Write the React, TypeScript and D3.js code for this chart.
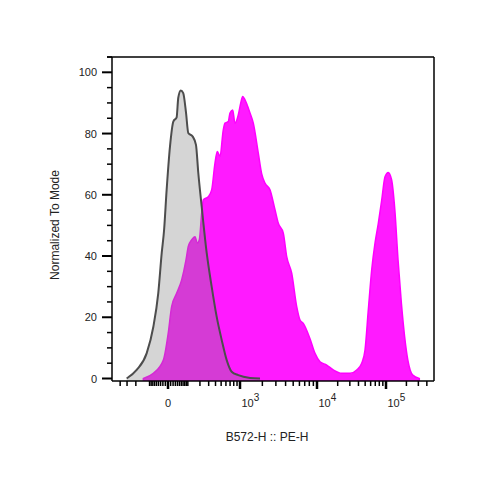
import React from "react";
import * as d3 from "d3";

// ---- data (fluorescence value, normalized to mode %) ----
const controlX = [-305, -192, -109, -67, -41, -25, -15, -5, 7.5, 21, 36, 44, 57, 71, 88, 103, 136, 163, 184, 218, 275, 341, 419, 511, 618, 743, 941, 1370, 1863];
const controlY = [0, 2.8, 8.3, 16.9, 27.9, 41.0, 48.5, 61.6, 75.8, 83.9, 85.3, 91.7, 94.1, 93.2, 86.8, 80.2, 79.0, 76.3, 67.2, 56.1, 41.0, 30.0, 20.2, 12.6, 6.0, 2.2, 1.1, 0.2, 0];

const stainedX = [-134, -67, -18, 1, 14, 36, 62, 88, 103, 128, 155, 175, 194, 218, 235, 295, 341, 391, 430, 478, 543, 579, 655, 698, 770, 837, 941, 1023, 1090, 1172, 1370, 1517, 1768, 1961, 2167, 2517, 2923, 3225, 3737, 4133, 4786, 5541, 6103, 6717, 8162, 9437, 11062, 13848, 17275, 22865, 30180, 37720, 44550, 49740, 55510, 62160, 69370, 77440, 86700, 96770, 107960, 120890, 134940, 150580, 168540, 188130, 209970, 247940, 309700];
const stainedY = [0, 1.7, 6.0, 14.9, 23.5, 27.8, 32.2, 38.7, 43.1, 45.3, 46.3, 44.2, 45.3, 54.1, 58.3, 59.4, 61.6, 70.3, 74.1, 72.5, 81.2, 83.4, 83.9, 86.7, 87.7, 83.4, 86.1, 89.9, 92.1, 91.0, 86.7, 83.4, 73.6, 66.8, 63.8, 61.6, 55.1, 50.7, 47.5, 39.8, 34.4, 23.5, 19.1, 18.0, 13.0, 8.2, 5.5, 4.4, 2.8, 1.7, 1.7, 2.8, 5.0, 9.3, 22.4, 35.5, 44.2, 50.7, 58.3, 65.9, 67.3, 64.9, 55.1, 38.7, 24.6, 13.7, 6.0, 1.1, 0];

const yMajorTicks = [0, 20, 40, 60, 80, 100];
const yMinorTicks = [5, 10, 15, 25, 30, 35, 45, 50, 55, 65, 70, 75, 85, 90, 95, 105];
const xMajorTicks = [0, 1000, 10000, 100000];
const xMajorLabels = [
  { base: "0", exp: "" },
  { base: "10", exp: "3" },
  { base: "10", exp: "4" },
  { base: "10", exp: "5" },
];
const xMinorTicks = [
  -400, -300, -200, -90, -80, -70, -60, -50, -40, -30, -20, -10,
  10, 20, 30, 40, 50, 60, 70, 80, 90,
  100, 200, 300, 400, 500, 600, 700, 800, 900,
  2000, 3000, 4000, 5000, 6000, 7000, 8000, 9000,
  20000, 30000, 40000, 50000, 60000, 70000, 80000, 90000,
  200000, 300000, 400000,
];
const xDomainStops = [-550, 0, 1000, 10000, 100000, 510000];

const xTitle = "B572-H :: PE-H";
const yTitle = "Normalized To Mode";

// ---- layout ----
const W = 500, H = 484;
const left = 112, right = 434, top = 57, bottom = 381;
const xStopPix = [112, 168, 240, 317, 386, 434];

const biex = (v: number) => Math.sign(v) * Math.log10(1 + Math.abs(v) / 115);
const tScale = d3.scaleLinear().domain(xDomainStops.map(biex)).range(xStopPix);
const x = (v: number) => tScale(biex(v));
const y = d3.scaleLinear().domain([0, 105]).range([378.5, top]);

const font = "'Liberation Sans', Arial, sans-serif";

export default function App() {
  const ctrl = controlX.map((v, i) => [v, controlY[i]] as [number, number]);
  const stn = stainedX.map((v, i) => [v, stainedY[i]] as [number, number]);
  const area = d3
    .area<[number, number]>()
    .x((d) => x(d[0]))
    .y0(bottom)
    .y1((d) => Math.min(y(d[1]), bottom))
    .curve(d3.curveMonotoneX);
  const line = d3
    .line<[number, number]>()
    .x((d) => x(d[0]))
    .y((d) => Math.min(y(d[1]), bottom))
    .curve(d3.curveMonotoneX);

  return (
    <svg
      width={W}
      height={H}
      style={{ position: "absolute", left: 0, top: 0, background: "#fff" }}
      fontFamily={font}
    >
      <defs>
        <clipPath id="plot">
          <rect x={left} y={top} width={right - left} height={bottom - top} />
        </clipPath>
      </defs>
      <g clipPath="url(#plot)">
        <path d={area(stn) || ""} fill="#ff1aff" stroke="#ff00ff" strokeWidth={1.5} />
        <path d={area(ctrl) || ""} fill="rgb(128,128,128)" fillOpacity={0.33} stroke="none" />
        <path d={line(ctrl) || ""} fill="none" stroke="#4d4d4d" strokeWidth={2} />
      </g>

      {/* frame */}
      <line x1={left - 5} x2={right} y1={top} y2={top} stroke="#000" strokeWidth={1.5} />
      <line x1={right} x2={right} y1={top} y2={bottom} stroke="#000" strokeWidth={1.5} />
      <line x1={left} x2={left} y1={top} y2={bottom} stroke="#000" strokeWidth={1.5} />
      <line x1={left} x2={right} y1={bottom} y2={bottom} stroke="#000" strokeWidth={1.5} />

      {/* y ticks */}
      {yMajorTicks.map((t) => (
        <g key={"ym" + t}>
          <line x1={left - 10} x2={left} y1={y(t)} y2={y(t)} stroke="#000" strokeWidth={2} />
          <text x={97} y={y(t) + 4} textAnchor="end" fontSize={11} fill="#222">
            {t}
          </text>
        </g>
      ))}
      {yMinorTicks.map((t) => (
        <line key={"yn" + t} x1={left - 5} x2={left} y1={y(t)} y2={y(t)} stroke="#000" strokeWidth={1.5} />
      ))}

      {/* x ticks */}
      {xMinorTicks.map((t) => (
        <line key={"xn" + t} x1={x(t)} x2={x(t)} y1={bottom} y2={bottom + 5} stroke="#000" strokeWidth={1.5} />
      ))}
      {xMajorTicks.map((t, i) => (
        <g key={"xm" + t}>
          <line x1={x(t)} x2={x(t)} y1={bottom} y2={bottom + 8} stroke="#000" strokeWidth={2.5} />
          {xMajorLabels[i].exp === "" ? (
            <text x={x(t)} y={407} textAnchor="middle" fontSize={11} fill="#222">
              {xMajorLabels[i].base}
            </text>
          ) : (
            <text x={x(t) + 1.5} y={407} textAnchor="start" fontSize={11} fill="#222">
              {xMajorLabels[i].base}
              <tspan dy={-6} fontSize={10}>
                {xMajorLabels[i].exp}
              </tspan>
            </text>
          )}
        </g>
      ))}

      {/* titles */}
      <text x={267} y={441} textAnchor="middle" fontSize={12} fill="#222">
        {xTitle}
      </text>
      <text
        transform={`translate(59, 225) rotate(-90)`}
        textAnchor="middle"
        fontSize={12}
        fill="#222"
      >
        {yTitle}
      </text>
    </svg>
  );
}
